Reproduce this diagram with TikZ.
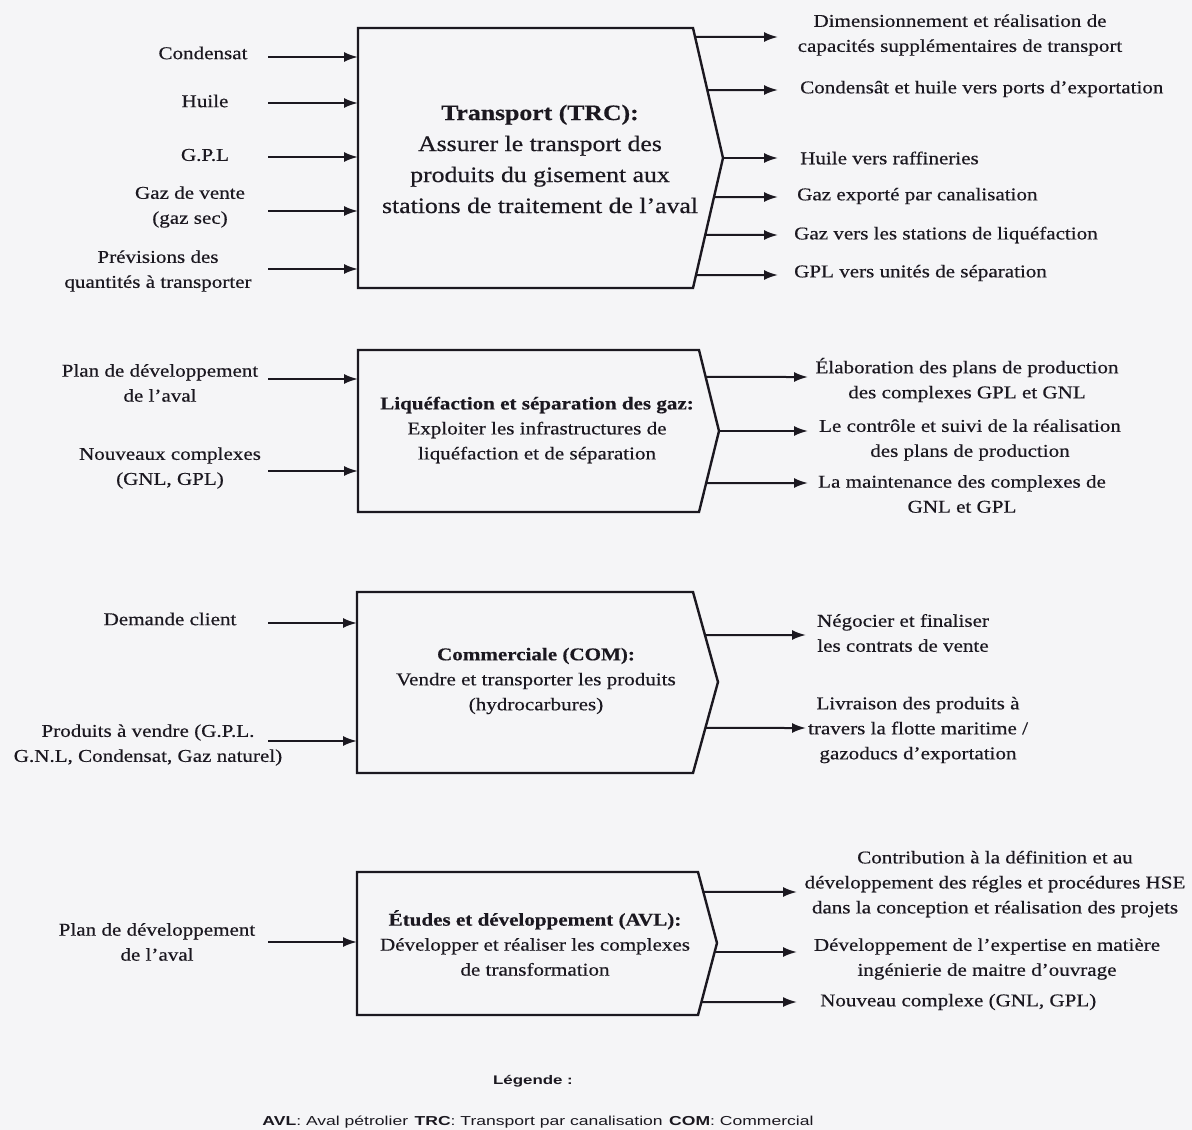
\documentclass[tikz,border=0pt]{standalone}
\usepackage{fontspec}
\setmainfont{Liberation Serif}[FakeStretch=1.17,FakeBold=0.5]
\setsansfont{Liberation Sans}[FakeStretch=1.35]
\usetikzlibrary{calc,arrows.meta}
\definecolor{ink}{HTML}{1B1820}
\definecolor{paper}{HTML}{F5F5F7}
\begin{document}
\begin{tikzpicture}[x=1pt,y=-1pt,
  flow/.style={draw=ink,line width=2pt,-{Latex[length=14pt,width=10pt]}},
  procbox/.style={draw=ink,line width=2.4pt,line join=miter,fill=paper},
  lbl/.style={text=ink,align=center,font=\fontsize{18}{25}\selectfont,inner sep=0pt},
  lblw/.style={lbl,anchor=west},
  boxtxt/.style={text=ink,align=center,font=\fontsize{18}{25}\selectfont,inner sep=0pt},
  bigtxt/.style={text=ink,align=center,font=\fontsize{22}{31}\selectfont,inner sep=0pt}]

\fill[paper] (0,0) rectangle (1192,1130);
\useasboundingbox (0,0) rectangle (1192,1130);

% ---------- Transport (TRC) ----------
\coordinate (b1nw) at (358,28);
\coordinate (b1ne) at (693,28);
\coordinate (b1tip) at (723,158);
\coordinate (b1se) at (693,288);
\coordinate (b1sw) at (358,288);
\draw[procbox] (b1nw) -- (b1ne) -- (b1tip) -- (b1se) -- (b1sw) -- cycle;
\node[bigtxt] (t1) at (540,159) {\textbf{Transport (TRC):}\\Assurer le transport des\\produits du gisement aux\\stations de traitement de l’aval};

\node[lbl] (i11) at (203,53) {Condensat};
\node[lbl] (i12) at (205,101) {Huile};
\node[lbl] (i13) at (205,155) {G.P.L};
\node[lbl] (i14) at (190,207) {Gaz de vente\\(gaz sec)};
\node[lbl] (i15) at (158,271) {Prévisions des\\quantités à transporter};
\foreach \n/\y in {1/57,2/103,3/157,4/211,5/269}{
  \coordinate (a1\n) at (268,\y);
  \draw[flow] (a1\n) -- (a1\n -| b1nw);
}

\node[lbl] (o11) at (960,35) {Dimensionnement et réalisation de\\capacités supplémentaires de transport};
\node[lblw] (o12) at (800,89) {Condensât et huile vers ports d’exportation};
\node[lblw] (o13) at (800,158) {Huile vers raffineries};
\node[lblw] (o14) at (797,196) {Gaz exporté par canalisation};
\node[lblw] (o15) at (794,235) {Gaz vers les stations de liquéfaction};
\node[lblw] (o16) at (794,273) {GPL vers unités de séparation};
\coordinate (e11) at (778,37);
\coordinate (e12) at (778,90);
\coordinate (e13) at (778,158);
\coordinate (e14) at (778,197);
\coordinate (e15) at (778,235);
\coordinate (e16) at (778,275);
\draw[flow] ($(b1ne)!0.069!(b1tip)$) -- (e11);
\draw[flow] ($(b1ne)!0.477!(b1tip)$) -- (e12);
\draw[flow] (b1tip) -- (e13);
\draw[flow] ($(b1tip)!0.3!(b1se)$) -- (e14);
\draw[flow] ($(b1tip)!0.592!(b1se)$) -- (e15);
\draw[flow] ($(b1tip)!0.9!(b1se)$) -- (e16);

% ---------- Liquéfaction et séparation ----------
\coordinate (b2nw) at (358,350);
\coordinate (b2ne) at (699,350);
\coordinate (b2tip) at (719,431);
\coordinate (b2se) at (699,512);
\coordinate (b2sw) at (358,512);
\draw[procbox] (b2nw) -- (b2ne) -- (b2tip) -- (b2se) -- (b2sw) -- cycle;
\node[boxtxt] (t2) at (537,430) {\textbf{Liquéfaction et séparation des gaz:}\\Exploiter les infrastructures de\\liquéfaction et de séparation};

\node[lbl] (i21) at (160,383) {Plan de développement\\de l’aval};
\node[lbl] (i22) at (170,468) {Nouveaux complexes\\(GNL, GPL)};
\foreach \n/\y in {1/379,2/471}{
  \coordinate (a2\n) at (268,\y);
  \draw[flow] (a2\n) -- (a2\n -| b2nw);
}

\node[lbl] (o21) at (967,380) {Élaboration des plans de production\\des complexes GPL et GNL};
\node[lbl] (o22) at (970,440) {Le contrôle et suivi de la réalisation\\des plans de production};
\node[lbl] (o23) at (962,494) {La maintenance des complexes de\\GNL et GPL};
\coordinate (e21) at (808,377);
\coordinate (e22) at (808,431);
\coordinate (e23) at (808,483);
\draw[flow] ($(b2ne)!0.333!(b2tip)$) -- (e21);
\draw[flow] (b2tip) -- (e22);
\draw[flow] ($(b2tip)!0.642!(b2se)$) -- (e23);

% ---------- Commerciale (COM) ----------
\coordinate (b3nw) at (357,592);
\coordinate (b3ne) at (693,592);
\coordinate (b3tip) at (718,682);
\coordinate (b3se) at (693,773);
\coordinate (b3sw) at (357,773);
\draw[procbox] (b3nw) -- (b3ne) -- (b3tip) -- (b3se) -- (b3sw) -- cycle;
\node[boxtxt] (t3) at (536,681) {\textbf{Commerciale (COM):}\\Vendre et transporter les produits\\(hydrocarbures)};

\node[lbl] (i31) at (170,619) {Demande client};
\node[lbl] (i32) at (148,745) {Produits à vendre (G.P.L.\\G.N.L, Condensat, Gaz naturel)};
\foreach \n/\y in {1/623,2/741}{
  \coordinate (a3\n) at (268,\y);
  \draw[flow] (a3\n) -- (a3\n -| b3nw);
}

\node[lbl] (o31) at (903,633) {Négocier et finaliser\\les contrats de vente};
\node[lbl] (o32) at (918,730) {Livraison des produits à\\travers la flotte maritime /\\gazoducs d’exportation};
\coordinate (e31) at (806,635);
\coordinate (e32) at (806,728);
\draw[flow] ($(b3ne)!0.478!(b3tip)$) -- (e31);
\draw[flow] ($(b3tip)!0.505!(b3se)$) -- (e32);

% ---------- Études et développement (AVL) ----------
\coordinate (b4nw) at (357,872);
\coordinate (b4ne) at (698,872);
\coordinate (b4tip) at (717,943);
\coordinate (b4se) at (698,1015);
\coordinate (b4sw) at (357,1015);
\draw[procbox] (b4nw) -- (b4ne) -- (b4tip) -- (b4se) -- (b4sw) -- cycle;
\node[boxtxt] (t4) at (535,943) {\textbf{Études et développement (AVL):}\\Développer et réaliser les complexes\\de transformation};

\node[lbl] (i41) at (157,942) {Plan de développement\\de l’aval};
\coordinate (a41) at (268,942);
\draw[flow] (a41) -- (a41 -| b4nw);

\node[lbl] (o41) at (995,884) {Contribution à la définition et au\\développement des régles et procédures HSE\\dans la conception et réalisation des projets};
\node[lbl] (o42) at (987,959) {Développement de l’expertise en matière\\ingénierie de maitre d’ouvrage};
\node[lblw] (o43) at (820,1002) {Nouveau complexe (GNL, GPL)};
\coordinate (e41) at (797,892);
\coordinate (e42) at (797,952);
\coordinate (e43) at (797,1002);
\draw[flow] ($(b4ne)!0.28!(b4tip)$) -- (e41);
\draw[flow] ($(b4tip)!0.125!(b4se)$) -- (e42);
\draw[flow] ($(b4tip)!0.82!(b4se)$) -- (e43);

% ---------- Légende ----------
\node[text=ink,font=\sffamily\bfseries\fontsize{12.5}{14}\selectfont,inner sep=0pt] (lg) at (533,1081) {Légende :};
\node[text=ink,font=\sffamily\fontsize{13}{14}\selectfont,inner sep=0pt] (lgt) at (538,1122) {\textbf{AVL}: Aval pétrolier\enspace \textbf{TRC}: Transport par canalisation\enspace \textbf{COM}: Commercial};
\end{tikzpicture}
\end{document}
